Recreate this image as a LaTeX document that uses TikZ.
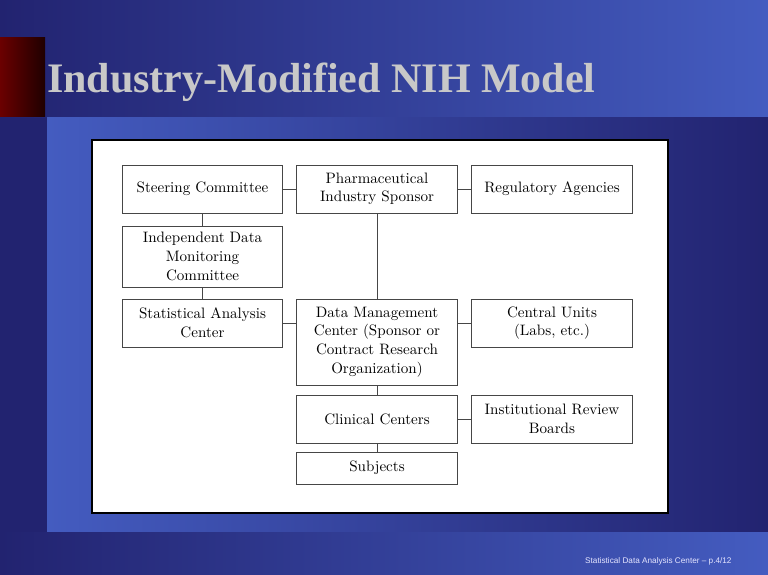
\documentclass[tikz,border=0pt]{standalone}
\usepackage{fontspec}
\usepackage{xcolor}
\newfontfamily\titlefont{Liberation Serif}
\newfontfamily\footfont{Liberation Sans}
\newfontfamily\boxfont{lmroman10-regular.otf}
\definecolor{navy}{RGB}{34,35,112}
\definecolor{lightblue}{RGB}{68,92,192}
\definecolor{titlegrey}{RGB}{200,200,200}
\definecolor{boxline}{RGB}{70,70,70}

\begin{document}
\begin{tikzpicture}[x=1pt,y=-1pt,
    box/.style={draw=boxline,line width=0.8pt,fill=white,align=center,inner sep=0pt,
      minimum width=160.5pt,font=\boxfont\fontsize{15.1}{18.6}\selectfont},
    link/.style={draw=boxline,line width=0.8pt}]
      \useasboundingbox (0,0) rectangle (768,574);
      % slide background
      \fill [navy] (0,0) rectangle (768,574);
      \shade [left color=navy,right color=lightblue] (0,0) rectangle (768,117);
      \shade [left color=lightblue,right color=navy] (47,117) rectangle (768,532);
      \shade [left color=navy,right color=lightblue] (0,532) rectangle (768,574);
      \shade [left color=red!42!black,right color=red!12!black] (0,37) rectangle (45,116);
      \node (T) [anchor=base west,inner sep=0pt,text=titlegrey,font=\titlefont\bfseries\fontsize{42}{48}\selectfont] at (47,92) {Industry-Modified NIH Model};
      \node (F) [anchor=base west,inner sep=0pt,text=white!90!blue,font=\footfont\fontsize{8.2}{10}\selectfont] at (585,563) {Statistical Data Analysis Center \textendash{} p.4/12};
      % white panel
      \node (P) [draw=black,line width=1.5pt,fill=white,minimum width=576pt,minimum height=373pt,inner sep=0pt] at (380,326.5) {};
      % boxes
      \node (SC) [box,minimum height=48pt] at (202.5,189) {Steering Committee};
      \node (PS) [box,minimum height=48pt] at (377,189) {Pharmaceutical\\Industry Sponsor};
      \node (RA) [box,minimum height=48pt] at (552,189) {Regulatory Agencies};
      \node (IDMC) [box,minimum height=61pt] at (202.5,256.5) {Independent Data\\Monitoring\\Committee};
      \node (SAC) [box,minimum height=48pt] at (202.5,323) {Statistical Analysis\\Center};
      \node (DMC) [box,minimum height=86pt] at (377,342) {Data Management\\Center (Sponsor or\\Contract Research\\Organization)};
      \node (CU) [box,minimum height=48pt] at (552,323) {Central Units\\(Labs, etc.)};
      \node (CC) [box,minimum height=48pt] at (377,419) {Clinical Centers};
      \node (IRB) [box,minimum height=48pt] at (552,419) {Institutional Review\\Boards};
      \node (S) [box,minimum height=32pt] at (377,468) {Subjects};
      % connectors
      \draw [link] (SC) to (PS);
      \draw [link] (PS) to (RA);
      \draw [link] (SC) to (IDMC);
      \draw [link] (IDMC) to (SAC);
      \draw [link] (PS) to (DMC);
      \draw [link] (SAC.east) to (SAC.east -| DMC.west);
      \draw [link] (CU.west) to (CU.west -| DMC.east);
      \draw [link] (DMC) to (CC);
      \draw [link] (CC) to (IRB);
      \draw [link] (CC) to (S);
    \end{tikzpicture}
\end{document}
